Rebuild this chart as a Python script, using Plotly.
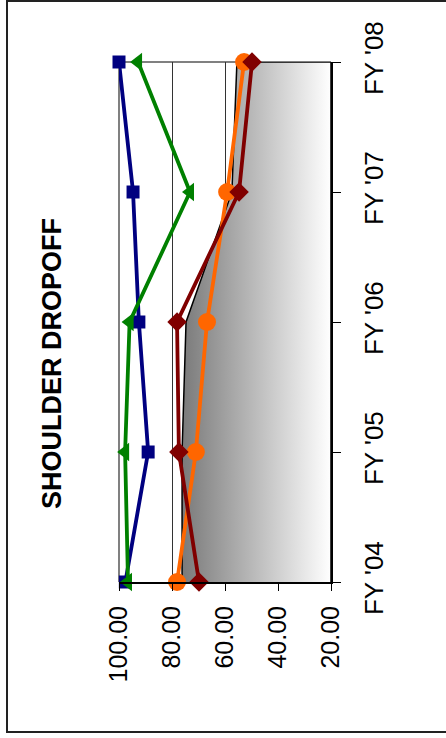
import plotly.graph_objects as go

categories = ["FY '04", "FY '05", "FY '06", "FY '07", "FY '08"]
area_vals = [76.2, 76.2, 74.7, 57.4, 55.5]
blue_vals = [97.6, 89.0, 92.5, 94.7, 100.0]
green_vals = [96.6, 97.7, 96.0, 73.2, 92.8]
orange_vals = [78.1, 71.0, 66.8, 59.2, 52.8]
maroon_vals = [69.8, 77.4, 78.1, 54.7, 49.8]
value_ticks = [100, 80, 60, 40, 20]
title_text = "SHOULDER DROPOFF"

FONT = "Liberation Sans, Arial, sans-serif"
W, H = 446, 738
L, R, T, B = 119, 115, 62, 156
pw, ph = W - L - R, H - T - B

def px_x(p):
    return (p - L) / pw

def px_y(p):
    return (H - B - p) / ph

vmin, vmax = min(value_ticks), max(value_ticks)

fig = go.Figure()

# Gradient area (closed to the axis minimum)
fig.add_trace(go.Scatter(
    x=area_vals + [vmin, vmin],
    y=categories + [categories[-1], categories[0]],
    mode="lines",
    fill="toself",
    fillgradient=dict(type="horizontal",
                      colorscale=[[0, "#ffffff"], [1, "#7a7a7a"]],
                      start=vmin, stop=max(area_vals)),
    line=dict(color="black", width=1.5),
    hoverinfo="skip",
    showlegend=False,
))

series = [
    (blue_vals, "#000080", "square", 13),
    (green_vals, "#008000", "triangle-left", 16),
    (orange_vals, "#FF6600", "circle", 18),
    (maroon_vals, "#800000", "diamond", 15),
]
for vals, col, sym, sz in series:
    fig.add_trace(go.Scatter(
        x=vals, y=categories, mode="lines+markers",
        line=dict(color=col, width=3.8),
        marker=dict(symbol=sym, size=sz, color=col, line=dict(width=0)),
        cliponaxis=False,
        showlegend=False,
    ))

shapes = [
    dict(type="line", xref="paper", yref="paper", x0=0, x1=0, y0=0, y1=1,
         line=dict(color="#808080", width=2), layer="below"),
    dict(type="line", xref="paper", yref="paper", x0=0, x1=1, y0=1, y1=1,
         line=dict(color="#808080", width=2), layer="below"),
    dict(type="rect", xref="paper", yref="paper",
         x0=px_x(7), x1=px_x(452), y0=px_y(732), y1=px_y(1),
         line=dict(color="#222222", width=2), fillcolor="rgba(0,0,0,0)"),
]

fig.update_layout(
    width=W, height=H,
    margin=dict(l=L, r=R, t=T, b=B),
    paper_bgcolor="white", plot_bgcolor="white",
    font=dict(family=FONT, color="black"),
    shapes=shapes,
    annotations=[dict(
        text="<b>" + title_text + "</b>", xref="paper", yref="paper",
        x=px_x(52), y=px_y(364), showarrow=False, textangle=-90,
        font=dict(family=FONT, size=27, color="black"),
        xanchor="center", yanchor="middle",
    )],
)

fig.update_xaxes(
    range=[vmax, vmin], tickvals=value_ticks, tickformat=".2f",
    tickangle=-90, tickfont=dict(size=25, family=FONT),
    ticks="outside", ticklen=7, tickcolor="black", tickwidth=1,
    showline=True, linecolor="black", linewidth=2,
    showgrid=True, gridcolor="#333333", gridwidth=1,
    zeroline=False, fixedrange=True, ticklabelstandoff=5,
)
fig.update_yaxes(
    type="category", categoryarray=categories, range=[0, len(categories) - 1],
    side="right", tickangle=-90, tickfont=dict(size=26, family=FONT),
    ticks="outside", ticklen=8, tickcolor="black", tickwidth=1,
    showline=True, linecolor="black", linewidth=2,
    showgrid=False, zeroline=False, fixedrange=True, ticklabelstandoff=11,
)

fig.write_html("out.html", config={"displayModeBar": False})

with open("out.html", "r", encoding="utf-8") as f:
    html = f.read()
html = html.replace("<head>", "<head><style>html,body{margin:0;padding:0;overflow:hidden;}</style>", 1)
with open("out.html", "w", encoding="utf-8") as f:
    f.write(html)
